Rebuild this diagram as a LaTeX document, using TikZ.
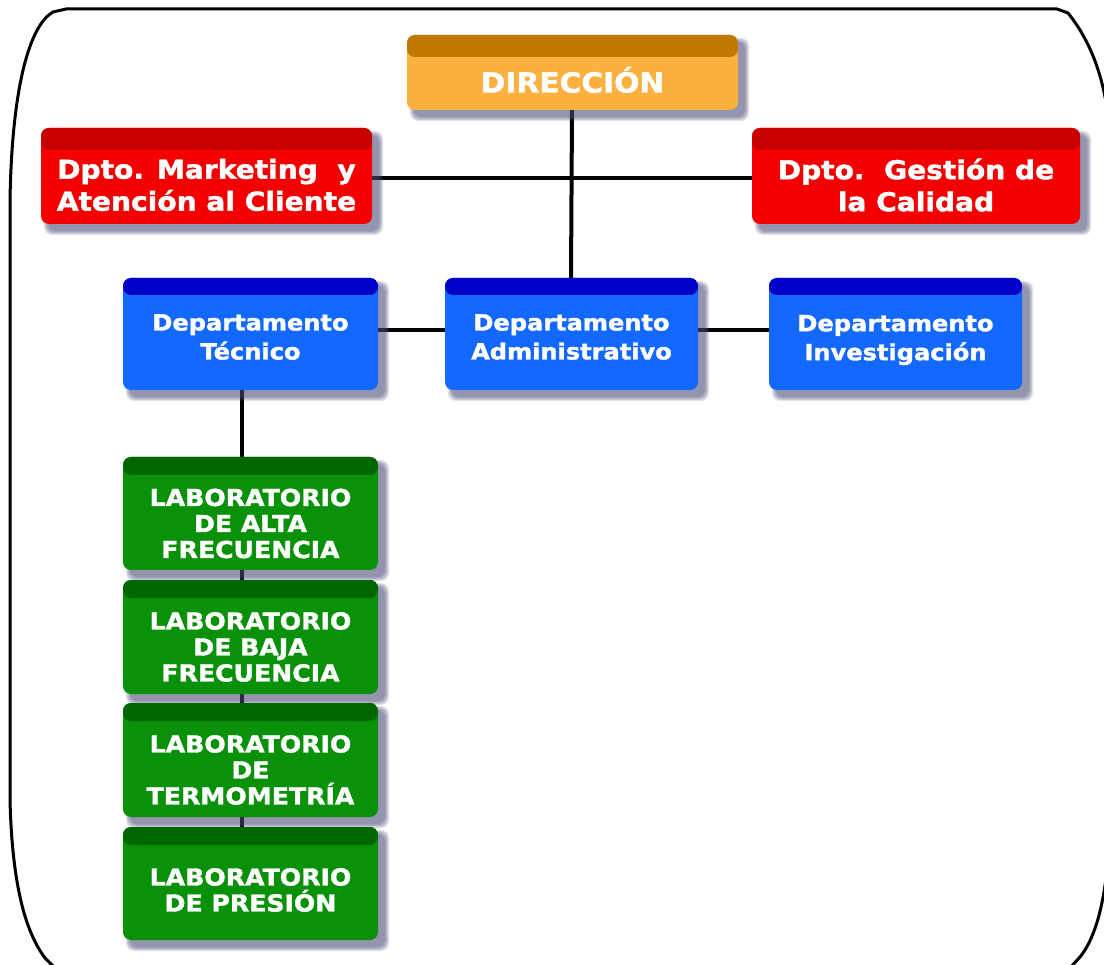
\documentclass[tikz,border=0pt]{standalone}
\usepackage{fontspec}
\newfontfamily\boxfont[FakeStretch=1.08, FakeBold=1.6]{DejaVu Sans}
\definecolor{orangeF}{RGB}{251,176,64}
\definecolor{orangeB}{RGB}{192,120,0}
\definecolor{redF}{RGB}{245,0,0}
\definecolor{redB}{RGB}{200,0,0}
\definecolor{blueF}{RGB}{18,104,255}
\definecolor{blueB}{RGB}{0,0,200}
\definecolor{greenF}{RGB}{10,145,10}
\definecolor{greenB}{RGB}{0,102,0}
\definecolor{shadowc}{RGB}{75,75,120}

% box with soft shadow: name, x1, y1, x2, y2, box style, text style, text
\newcommand\orgbox[8]{%
  \foreach \r in {0,...,4}{%
    \fill[shadowc, opacity=0.16, rounded corners=8pt]
      ({#2+7-\r},{#3+7-\r}) rectangle ({#4+7+\r},{#5+7+\r});
  }
  \node[orgnode, #6, minimum width={(#4)*1pt-(#2)*1pt},
        minimum height={(#5)*1pt-(#3)*1pt}] (#1) at ({(#2+#4)/2},{(#3+#5)/2}) {};
  \node[orgtext, #7] (#1-txt) at (#1.center) {#8};
}

\begin{document}
\begin{tikzpicture}[x=1pt, y=-1pt,
  conn/.style={line width=4pt, black},
  frame/.style={line width=3pt, black, line join=round},
  band/.style 2 args={path picture={\fill[#1] (path picture bounding box.north west)
      rectangle ([yshift=-#2]path picture bounding box.north east);}},
  orgnode/.style={rectangle, rounded corners=8pt, inner sep=0pt, outer sep=0pt},
  orgtext/.style={text=white, align=center, inner sep=0pt},
  dirtxt/.style={font=\boxfont\bfseries\fontsize{27.5}{30}\selectfont,
                 text height=20pt, text depth=0pt, yshift=-10pt},
  redtxt/.style={font=\boxfont\bfseries\fontsize{26}{32}\selectfont, yshift=-9pt},
  bluetxt/.style={font=\boxfont\bfseries\fontsize{22.3}{29}\selectfont, yshift=-3pt},
  greentxt/.style={font=\boxfont\bfseries\fontsize{23.3}{26}\selectfont, yshift=-10pt},
  dirbox/.style={fill=orangeF, band={orangeB}{22pt}},
  redbox/.style={fill=redF, band={redB}{22pt}},
  bluebox/.style={fill=blueF, band={blueB}{17pt}},
  greenbox/.style={fill=greenF, band={greenB}{18pt}},
  joint/.style={inner sep=0pt, minimum size=0pt},
]
\useasboundingbox (0,0) rectangle (1104,965);
\fill[white] (0,0) rectangle (1104,965);

% rounded outer frame
\draw[frame] (10,780) -- (10,200) .. controls (12,85) and (30,25) .. (53,12) -- (66,9)
  -- (1057,9) -- (1068,13) .. controls (1088,38) and (1102,70) .. (1108,115)
  -- (1108,860) .. controls (1103,915) and (1092,942) .. (1080,957) -- (1068,970);
\draw[frame] (10,780) -- (10,800) .. controls (12,880) and (24,930) .. (45,958) -- (55,968);

% connector end points (drawn first so the boxes cover their ends)
\node[joint] (dirS) at (572,110) {};
\node[joint] (admN) at (571,278) {};
\node[joint] (mktE) at (372,178) {};
\node[joint] (calW) at (752,178) {};
\node[joint] (tecE) at (378,330) {};
\node[joint] (admW) at (445,330) {};
\node[joint] (admE) at (698,330) {};
\node[joint] (invW) at (769,330) {};
\node[joint] (tecS) at (242,390) {};
\node[joint] (labN) at (242,827) {};
\draw[conn] (dirS) -- (admN);
\draw[conn] (mktE) -- (calW);
\draw[conn] (tecE) -- (admW);
\draw[conn] (admE) -- (invW);
\draw[conn] (tecS) -- (labN);

% boxes
\orgbox{dir}{407}{35}{738}{110}{dirbox}{dirtxt}{DIRECCIÓN}
\orgbox{mkt}{41}{128}{372}{224}{redbox}{redtxt}{Dpto. Marketing\ \ y\\Atención al Cliente}
\orgbox{cal}{752}{128}{1080}{224}{redbox}{redtxt}{Dpto.\ \ Gestión de\\la Calidad}
\orgbox{tec}{123}{278}{378}{390}{bluebox}{bluetxt}{Departamento\\Técnico}
\orgbox{adm}{445}{278}{698}{390}{bluebox}{bluetxt}{Departamento\\Administrativo}
\orgbox{inv}{769}{278}{1022}{390}{bluebox}{bluetxt, yshift=-3pt}{Departamento\\Investigación}
\orgbox{lab1}{123}{457}{378}{570}{greenbox}{greentxt}{LABORATORIO\\DE ALTA\\FRECUENCIA}
\orgbox{lab2}{123}{580}{378}{694}{greenbox}{greentxt}{LABORATORIO\\DE BAJA\\FRECUENCIA}
\orgbox{lab3}{123}{703}{378}{817}{greenbox}{greentxt}{LABORATORIO\\DE\\TERMOMETRÍA}
\orgbox{lab4}{123}{827}{378}{940}{greenbox}{greentxt, yshift=3.5pt}{LABORATORIO\\DE PRESIÓN}
\end{tikzpicture}
\end{document}
